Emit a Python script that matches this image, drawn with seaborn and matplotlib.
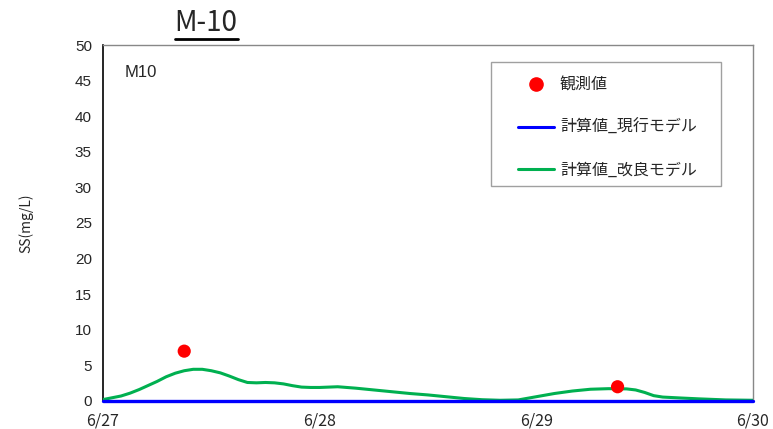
import pandas as pd
import numpy as np
import matplotlib.pyplot as plt
import matplotlib.lines as mlines
import matplotlib.patches as mpatches
import seaborn as sns

# hours since 6/27 00:00
obs_hours = [9, 57]
obs_values = [7.0, 2.0]

calc_hours = [0, 2, 3, 4, 6, 7, 8, 9, 10, 11, 12, 13, 14, 15, 16, 17, 18, 19, 20, 21,
              22, 23, 24, 26, 28, 30, 32, 34, 36, 38, 40, 42, 44, 46, 48, 50, 52, 54,
              56, 58, 59, 60, 61, 62, 64, 66, 69, 72]
improved_values = [0.2, 0.7, 1.1, 1.6, 2.75, 3.4, 3.9, 4.25, 4.45, 4.45, 4.25, 3.95, 3.5,
                   3.0, 2.6, 2.55, 2.6, 2.55, 2.4, 2.15, 1.95, 1.9, 1.9, 2.0, 1.8, 1.55,
                   1.3, 1.05, 0.85, 0.6, 0.35, 0.18, 0.1, 0.15, 0.6, 1.05, 1.4, 1.65,
                   1.73, 1.7, 1.55, 1.2, 0.75, 0.55, 0.42, 0.3, 0.15, 0.1]
current_values = [0.0] * len(calc_hours)

tick_labels = ['6/27', '6/28', '6/29', '6/30']
start = pd.Timestamp('2020-06-27')

calc = pd.DataFrame({'time': start + pd.to_timedelta(calc_hours, unit='h'),
                     'current': current_values, 'improved': improved_values})
obs = pd.DataFrame({'time': start + pd.to_timedelta(obs_hours, unit='h'),
                    'value': obs_values})
ticks = pd.date_range(start, periods=len(tick_labels), freq='D')

sns.set_style('white')
plt.rcParams['font.family'] = ['Noto Sans CJK JP', 'DejaVu Sans']

fig = plt.figure(figsize=(7.73, 4.29), dpi=100)
ax = fig.add_axes([0.1332, 0.0653, 0.8409, 0.8298])

sns.lineplot(data=calc, x='time', y='improved', color='#00b050', lw=2.2, ax=ax, zorder=3)
sns.lineplot(data=calc, x='time', y='current', color='#0000ff', lw=2.4, ax=ax, zorder=4)
ax.lines[-1].set_clip_on(False)
sns.scatterplot(data=obs, x='time', y='value', color='#ff0000', s=90, edgecolor='none',
                ax=ax, zorder=5)

ax.set_xlim(ticks[0], ticks[-1])
ax.set_ylim(0, 50)
ax.set_yticks(np.arange(0, 51, 5))
ax.set_xticks(ticks)
ax.set_xticklabels(tick_labels, fontsize=11.5)
ax.tick_params(axis='y', direction='out', length=5, width=0.8, labelsize=11, pad=3)
ax.tick_params(axis='x', direction='in', length=5, width=0.8, color='#888888', pad=8)
for lab in ax.get_yticklabels():
    lab.set_family(['Liberation Sans', 'DejaVu Sans'])
ax.set_xlabel('')
ax.set_ylabel('SS(mg/L)', fontsize=10, labelpad=30)

ax.spines['left'].set_color('black')
ax.spines['left'].set_linewidth(1.2)
for side in ['top', 'right', 'bottom']:
    ax.spines[side].set_color('#888888')
    ax.spines[side].set_linewidth(1.0)

ax.text(0.034, 0.924, 'M10', transform=ax.transAxes, fontsize=12, va='center',
        family=['Liberation Sans', 'DejaVu Sans'])

# legend box drawn separately (wider side padding than top/bottom)
ax.add_patch(mpatches.Rectangle((0.597, 0.604), 0.354, 0.348, transform=ax.transAxes,
                                facecolor='white', edgecolor='#a0a0a0', lw=1.0, zorder=6))
handles = [mlines.Line2D([], [], color='#ff0000', marker='o', ls='none', markersize=9.5),
           mlines.Line2D([], [], color='#0000ff', lw=2.2),
           mlines.Line2D([], [], color='#00b050', lw=2.2)]
labels = ['観測値', '計算値_現行モデル', '計算値_改良モデル']
leg = ax.legend(handles, labels, loc='upper left', bbox_to_anchor=(0.638, 0.911),
                fontsize=11.5, frameon=False, labelspacing=1.6, handlelength=2.3,
                borderpad=0, handletextpad=0.35, borderaxespad=0)
leg.set_zorder(7)

title = fig.text(206 / 773, 1 - 23 / 429, 'M-10', fontsize=20, ha='center', va='center')
fig.canvas.draw()
bb = title.get_window_extent().transformed(fig.transFigure.inverted())
fig.add_artist(mlines.Line2D([bb.x0, bb.x1], [bb.y0 - 0.002, bb.y0 - 0.002],
                             color='black', lw=2, transform=fig.transFigure))

fig.savefig('out.png', dpi=100)
